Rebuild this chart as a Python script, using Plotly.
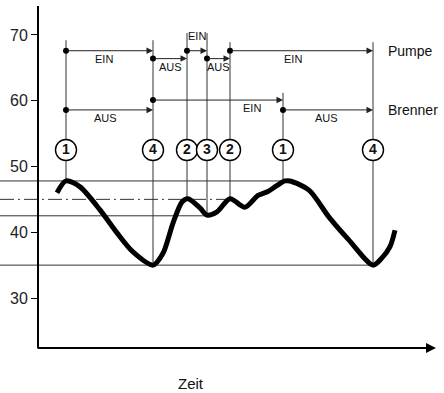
import plotly.graph_objects as go

# Temperature curve of the boiler water over time
zeit = [19, 28, 42, 62, 79, 95, 115, 125, 135, 144, 150, 162, 169, 179, 192,
        207, 220, 230, 238, 247, 252, 271, 291, 311, 335, 344, 352, 357]
temperatur = [46.0, 47.8, 46.9, 43.4, 39.9, 37.0, 35.0, 36.8, 41.4, 44.6, 45.1,
              43.7, 42.6, 43.1, 45.1, 43.8, 45.6, 46.2, 47.0, 47.8, 47.8, 46.4,
              42.3, 38.8, 35.0, 36.1, 37.8, 40.3]

# Switching points (numbered circles)
punkt_zeit = [28, 115, 149, 169, 192, 245, 335]
punkt_nr = ["1", "4", "2", "3", "2", "1", "4"]
punkt_temp = [47.8, 35.0, 45.0, 42.5, 45.0, 47.8, 35.0]

# Switching thresholds
schwelle_temp = [47.8, 45.0, 42.5, 35.0]
schwelle_ende = [245, 192, 169, 335]

# Pump and burner states
pumpe_von = [28, 115, 149, 169, 192]
pumpe_bis = [115, 149, 169, 192, 335]
pumpe_zustand = ["EIN", "AUS", "EIN", "AUS", "EIN"]
brenner_von = [28, 115, 245]
brenner_bis = [115, 245, 335]
brenner_zustand = ["AUS", "EIN", "AUS"]

y_ticks = [30, 40, 50, 60, 70]

FONT = "Liberation Sans, Arial, Helvetica, sans-serif"
INK = "#111111"
Y_MIN, Y_MAX = 22.4, 74.4
PLOT_H = 393 - 6 - 45
ROW = {"Pumpe": {"EIN": 67.6, "AUS": 66.4}, "Brenner": {"EIN": 60.1, "AUS": 58.6}}
CIRCLE_Y = 52.5
LINE_TOP = [69.2, 69.2, 70.3, 70.3, 68.9, 61.2, 68.9]

fig = go.Figure()
shapes = []
ann = []

# threshold lines reaching past the axis to the left edge
for t, end in zip(schwelle_temp, schwelle_ende):
    shapes.append(dict(type="line", xref="x", yref="y", x0=-38, x1=end, y0=t, y1=t,
                       line=dict(color="#333", width=1,
                                 dash="14px,4px,2px,4px" if t == 45.0 else "solid"),
                       layer="below"))

# vertical guide lines at each switching point
for x, top, bot in zip(punkt_zeit, LINE_TOP, punkt_temp):
    shapes.append(dict(type="line", xref="x", yref="y", x0=x, x1=x, y0=top, y1=bot,
                       line=dict(color="#333", width=1), layer="below"))

# state arrows
label_shift = {("Pumpe", 0): -6, ("Pumpe", 4): -9, ("Brenner", 0): -4,
               ("Brenner", 1): 34, ("Brenner", 2): -2}
dots_x, dots_y = [], []
for name, von, bis, zst in [("Pumpe", pumpe_von, pumpe_bis, pumpe_zustand),
                            ("Brenner", brenner_von, brenner_bis, brenner_zustand)]:
    for i, (a, b, s) in enumerate(zip(von, bis, zst)):
        yv = ROW[name][s]
        ann.append(dict(x=b, y=yv, ax=a, ay=yv, axref="x", ayref="y", xref="x", yref="y",
                        text="", showarrow=True, arrowhead=2, arrowsize=1.3,
                        arrowwidth=1, arrowcolor="#222", standoff=0))
        dots_x.append(a)
        dots_y.append(yv)
        short_top = (b - a) < 25 and s == "EIN"
        ann.append(dict(x=(a + b) / 2 + label_shift.get((name, i), 0), y=yv,
                        xref="x", yref="y", text=s, showarrow=False,
                        yshift=15 if short_top else -8,
                        font=dict(family=FONT, size=11, color=INK)))
    ann.append(dict(x=348, y=ROW[name]["EIN"] if name == "Pumpe" else ROW[name]["AUS"],
                    xref="x", yref="y", text=name, showarrow=False, xanchor="left",
                    font=dict(family=FONT, size=14, color=INK)))

# curve
fig.add_trace(go.Scatter(x=zeit, y=temperatur, mode="lines",
                         line=dict(color="black", width=5, shape="spline", smoothing=0.8),
                         hoverinfo="skip", showlegend=False))

# start dots of the state arrows
fig.add_trace(go.Scatter(x=dots_x, y=dots_y, mode="markers",
                         marker=dict(color="black", size=6), showlegend=False,
                         hoverinfo="skip"))

# numbered circles
fig.add_trace(go.Scatter(x=punkt_zeit, y=[CIRCLE_Y] * len(punkt_zeit), mode="markers+text",
                         text=punkt_nr, textposition="middle center",
                         textfont=dict(family=FONT, size=14, color=INK, weight="bold"),
                         marker=dict(size=21, color="white", line=dict(color="black", width=1.4)),
                         showlegend=False, hoverinfo="skip"))

# time axis with arrow
ann.append(dict(x=398, y=Y_MIN, ax=-2, ay=Y_MIN, axref="x", ayref="y", xref="x", yref="y",
                text="", showarrow=True, arrowhead=2, arrowsize=1, arrowwidth=2,
                arrowcolor="black", standoff=0))
ann.append(dict(x=191 / 444, y=-(383 - 348) / PLOT_H, xref="paper", yref="paper",
                text="Zeit", showarrow=False, yanchor="middle",
                font=dict(family=FONT, size=15, color=INK)))

fig.update_layout(
    width=444, height=393,
    margin=dict(l=0, r=0, t=6, b=45),
    paper_bgcolor="white", plot_bgcolor="white",
    shapes=shapes, annotations=ann,
    xaxis=dict(range=[-38, 406], visible=False),
    yaxis=dict(range=[Y_MIN, Y_MAX], anchor="free", position=38 / 444,
               showline=True, linecolor="black", linewidth=2,
               ticks="outside", ticklen=6, tickwidth=1, tickcolor="black",
               tickvals=y_ticks, showgrid=False, zeroline=False,
               tickfont=dict(family=FONT, size=16, color="#222")),
)

fig.write_html("out.html")
